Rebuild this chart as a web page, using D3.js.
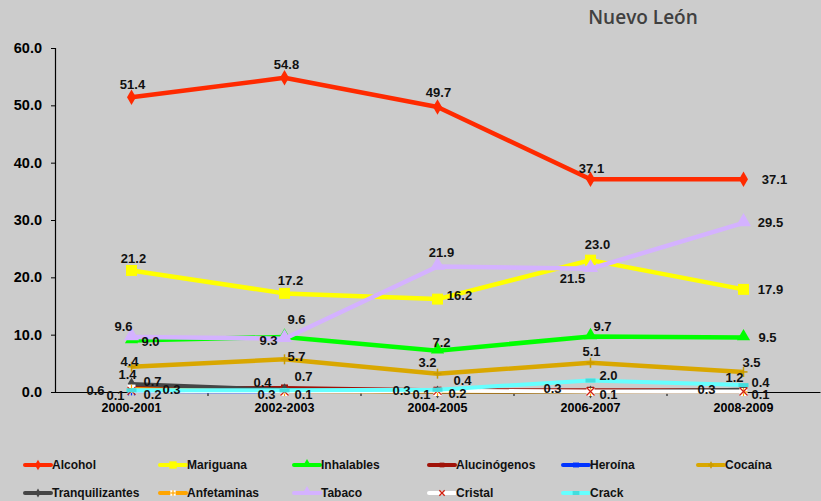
<!DOCTYPE html>
<html><head><meta charset="utf-8">
<script src="https://cdn.jsdelivr.net/npm/d3@7"></script>
<style>
html,body{margin:0;padding:0;background:#cccccc;}
svg{display:block;font-family:"Liberation Sans",Arial,sans-serif;}
</style></head>
<body>
<svg id="chart" width="821" height="501"></svg>
<script>
// ---- data ----
const categories = ["2000-2001","2002-2003","2004-2005","2006-2007","2008-2009"];
const yTicks = [0,10,20,30,40,50,60];
const alcohol        = [51.4, 54.8, 49.7, 37.1, 37.1];
const mariguana      = [21.2, 17.2, 16.2, 23.0, 17.9];
const inhalables     = [9.0, 9.6, 7.2, 9.7, 9.5];
const alucinogenos   = [0.7, 0.7, 0.3, 0.3, 0.3];
const heroina        = [0.1, 0.0, 0.1, 0.0, 0.0];
const cocaina        = [4.4, 5.7, 3.2, 5.1, 3.5];
const tranquilizantes= [1.4, 0.4, 0.0, 0.0, 0.4];
const anfetaminas    = [0.6, 0.0, 0.0, 0.0, 0.0];
const tabaco         = [9.6, 9.3, 21.9, 21.5, 29.5];
const cristal        = [0.2, 0.1, 0.2, 0.1, 0.1];
const crack          = [0.3, 0.3, 0.4, 2.0, 1.2];
const seriesNames = ["Alcohol","Mariguana","Inhalables","Alucinógenos","Heroína","Cocaína",
                     "Tranquilizantes","Anfetaminas","Tabaco","Cristal","Crack"];
const seriesValues = [alcohol,mariguana,inhalables,alucinogenos,heroina,cocaina,
                      tranquilizantes,anfetaminas,tabaco,cristal,crack];

// ---- styles ----
const styles = {
  "Alcohol":        {color:"#ff2a00", w:4.5, marker:"diamond", mfill:"#ff2a00", msize:70},
  "Mariguana":      {color:"#ffff00", w:4.5, marker:"square",  mfill:"#ffff00", msize:120},
  "Inhalables":     {color:"#00ff00", w:4.5, marker:"triangle",mfill:"#00ff00", msize:75},
  "Alucinógenos":   {color:"#a01208", w:4,   marker:"square",  mfill:"#a01208", msize:50},
  "Heroína":        {color:"#0033ff", w:3,   marker:"star",    mfill:"#0033ff", msize:50},
  "Cocaína":        {color:"#d9a700", w:4.5, marker:"plus",    mfill:"#c89a00", msize:50},
  "Tranquilizantes":{color:"#454545", w:4,   marker:"diamond", mfill:"#454545", msize:50},
  "Anfetaminas":    {color:"#ffa500", w:3,   marker:"anf",     mfill:"#ffffff", msize:50},
  "Tabaco":         {color:"#d4b2ff", w:4.5, marker:"triangle",mfill:"#d4b2ff", msize:100},
  "Cristal":        {color:"#ffffff", w:4,   marker:"x",       mfill:"#d02010", msize:50},
  "Crack":          {color:"#66ffff", w:4,   marker:"dash",    mfill:"#44dddd", msize:50}
};
// label offsets (dx, dy) relative to each point
const labelOffsets = {
  "Alcohol":        [[1,-13],[2,-13],[1,-15],[1,-11],[31,0]],
  "Mariguana":      [[2,-12],[6,-13],[22,-4],[7,-16],[27,0]],
  "Inhalables":     [[19,1],[12,-17],[4,-8],[12,-10],[24,0]],
  "Alucinógenos":   [[21,-6],[19,-11],[-36,0],[-38,-2],[-37,-1]],
  "Heroína":        [[-16,4],null,[-16,3],null,null],
  "Cocaína":        [[-2,-5],[12,-3],[-10,-11],[1,-11],[8,-9]],
  "Tranquilizantes":[[-4,-9],[-22,-7],null,null,[17,-7]],
  "Anfetaminas":    [[-36,2],null,null,null,null],
  "Tabaco":         [[-8,-10],[-16,2],[4,-14],[-18,10],[27,0]],
  "Cristal":        [[21,4],[19,3],[20,3],[18,3],[17,3]],
  "Crack":          [[40,-1],[-18,4],[25,-9],[18,-5],[-9,-8]]
};

const svg = d3.select("#chart");
const W = 821, H = 501;
svg.append("rect").attr("width",W).attr("height",H).attr("fill","#cccccc");

const x = d3.scaleBand().domain(categories).range([55, 820]).padding(0);
const cx = c => x(c) + x.bandwidth()/2;
const y = d3.scaleLinear().domain([0,60]).range([392, 48]);

// title
svg.append("text").attr("x",643).attr("y",24).attr("text-anchor","middle")
  .attr("font-family","'Open Sans',sans-serif").attr("font-weight",600)
  .attr("font-size",19).attr("fill","#404040").text("Nuevo León");

// y axis
const yAxis = svg.append("g").attr("transform","translate(55,0)")
  .call(d3.axisLeft(y).tickValues(yTicks).tickFormat(d3.format(".1f")).tickSize(4).tickPadding(9));
yAxis.select(".domain").attr("stroke","#000").attr("stroke-width",1.2);
yAxis.selectAll(".tick line").attr("stroke","#000");
yAxis.selectAll("text").attr("font-size",14.5).attr("font-weight","bold")
  .attr("fill","#000").attr("font-family","'Liberation Sans',Arial,sans-serif");

// x axis
const xAxis = svg.append("g").attr("transform","translate(0,392)")
  .call(d3.axisBottom(x).tickSize(0).tickPadding(11));
xAxis.select(".domain").attr("stroke","#000").attr("stroke-width",1.2);
xAxis.selectAll("text").attr("font-size",12.5).attr("font-weight","bold")
  .attr("fill","#000").attr("font-family","'Liberation Sans',Arial,sans-serif");
// boundary ticks
xAxis.selectAll(".bticks").data(categories.slice(1)).enter().append("line")
  .attr("x1",d=>x(d)).attr("x2",d=>x(d)).attr("y1",0).attr("y2",4).attr("stroke","#000");

// marker drawing
function drawMarker(g, st, px, py, scale) {
  scale = scale || 1;
  const m = st.marker;
  const k = Math.sqrt(scale);
  if (m==="diamond") {
    g.append("path").attr("d",d3.symbol(d3.symbolDiamond, st.msize*scale)())
      .attr("transform",`translate(${px},${py})`).attr("fill",st.mfill);
  } else if (m==="square") {
    g.append("path").attr("d",d3.symbol(d3.symbolSquare, st.msize*scale)())
      .attr("transform",`translate(${px},${py})`).attr("fill",st.mfill);
  } else if (m==="triangle") {
    g.append("path").attr("d",d3.symbol(d3.symbolTriangle, st.msize*scale)())
      .attr("transform",`translate(${px},${py-1})`).attr("fill",st.mfill);
  } else if (m==="plus") {
    g.append("line").attr("x1",px).attr("x2",px).attr("y1",py-5*k).attr("y2",py+5*k)
      .attr("stroke",st.mfill).attr("stroke-width",1.5);
    g.append("line").attr("x1",px-4*k).attr("x2",px+4*k).attr("y1",py).attr("y2",py)
      .attr("stroke",st.mfill).attr("stroke-width",1.5);
  } else if (m==="star") {
    [-3,0,3].forEach(o=>g.append("line").attr("x1",px+o*k).attr("x2",px+o*k)
      .attr("y1",py-4*k).attr("y2",py+4*k).attr("stroke",st.mfill).attr("stroke-width",1.2));
  } else if (m==="anf") {
    const s = 4*k;
    g.append("rect").attr("x",px-s).attr("y",py-s).attr("width",2*s).attr("height",2*s).attr("fill","#fff");
    g.append("line").attr("x1",px).attr("x2",px).attr("y1",py-s).attr("y2",py+s).attr("stroke",st.color).attr("stroke-width",1.2);
    g.append("line").attr("x1",px-s).attr("x2",px+s).attr("y1",py).attr("y2",py).attr("stroke",st.color).attr("stroke-width",1.2);
  } else if (m==="x") {
    const s = 4*k;
    g.append("line").attr("x1",px-s).attr("x2",px+s).attr("y1",py-s).attr("y2",py+s).attr("stroke",st.mfill).attr("stroke-width",1.3);
    g.append("line").attr("x1",px-s).attr("x2",px+s).attr("y1",py+s).attr("y2",py-s).attr("stroke",st.mfill).attr("stroke-width",1.3);
  } else if (m==="dash") {
    g.append("rect").attr("x",px-5*k).attr("y",py-2).attr("width",10*k).attr("height",4).attr("fill",st.mfill);
  }
}

// lines and markers
const line = d3.line().x((d,i)=>cx(categories[i])).y(d=>y(d));
const plot = svg.append("g");
seriesNames.forEach((name, si) => {
  const st = styles[name];
  const vals = seriesValues[si];
  plot.append("path").datum(vals).attr("d",line).attr("fill","none")
    .attr("stroke",st.color).attr("stroke-width",st.w).attr("stroke-linejoin","round");
  const mg = plot.append("g");
  vals.forEach((v,i)=>drawMarker(mg, st, cx(categories[i]), y(v)));
});

// labels
const lab = svg.append("g").attr("font-size",13).attr("font-weight","bold").attr("fill","#111")
  .attr("text-anchor","middle").attr("dominant-baseline","central");
seriesNames.forEach((name, si) => {
  const vals = seriesValues[si];
  vals.forEach((v,i)=>{
    const off = labelOffsets[name][i];
    if (!off || v===0) return;
    lab.append("text").attr("x",cx(categories[i])+off[0]).attr("y",y(v)+off[1])
      .text(d3.format(".1f")(v));
  });
});

// legend
const legCols = [25,160,294,429,563,698];
const legRows = [465,493];
const leg = svg.append("g");
seriesNames.forEach((name, si) => {
  const st = styles[name];
  const col = si % 6, row = Math.floor(si/6);
  const lx = legCols[col], ly = legRows[row];
  leg.append("line").attr("x1",lx).attr("x2",lx+26).attr("y1",ly).attr("y2",ly)
    .attr("stroke",st.color).attr("stroke-width",4).attr("stroke-linecap","round");
  drawMarker(leg, st, lx+13, ly, 0.45);
  leg.append("text").attr("x",lx+27).attr("y",ly).attr("dominant-baseline","central")
    .attr("font-size",12).attr("font-weight","bold").attr("fill","#111").text(name);
});
</script>
</body></html>
